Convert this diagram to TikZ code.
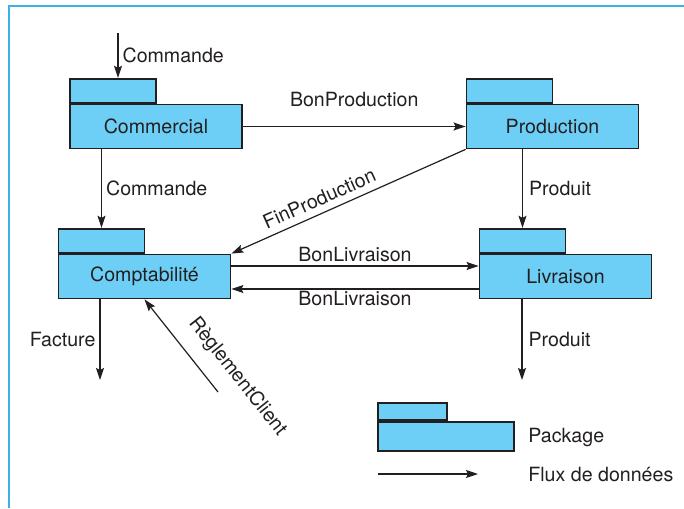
\documentclass[tikz,border=0pt]{standalone}
\usepackage{fontspec}
\setmainfont{TeX Gyre Heros}
\usetikzlibrary{arrows.meta}
\definecolor{pkgfill}{HTML}{6DCFF6}
\definecolor{ink}{HTML}{231F20}
\definecolor{edgeblue}{HTML}{3DB1E3}

\begin{document}
\begin{tikzpicture}[x=0.5pt, y=-0.5pt,
    every node/.style={font=\fontsize{9.8}{12}\selectfont, text=ink},
    pkg/.style={draw=ink, fill=pkgfill, line width=0.9pt, minimum width=86pt, minimum height=22pt, inner sep=0pt},
    pkgtab/.style={draw=ink, fill=pkgfill, line width=0.9pt, minimum width=43pt, minimum height=12pt, inner sep=0pt, anchor=south west},
    flow/.style={draw=ink, line width=0.6pt, -{Stealth[length=6pt, width=4pt, inset=1pt]}}]
    \useasboundingbox (0,0) rectangle (684,508);
    \draw [edgeblue, line width=1pt] (9,508) -- (9,6) -- (684,6);

    \node[pkg] (commercial) at (156,126.5) {Commercial};
    \node[pkgtab] (commercialtab) at (commercial.north west) {};
    \node[pkg] (production) at (552.5,126.5) {Production};
    \node[pkgtab] (productiontab) at (production.north west) {};
    \node[pkg] (comptabilite) at (144.5,276.5) {Comptabilité};
    \node[pkgtab] (comptabilitetab) at (comptabilite.north west) {};
    \node[pkg] (livraison) at (565.5,276.5) {Livraison};
    \node[pkgtab] (livraisontab) at (livraison.north west) {};

    \coordinate (cmdin) at (118,33);
    \draw[flow] (cmdin) -- (cmdin |- commercialtab.north) node[midway, right, inner sep=2pt] {Commande};
    \draw[flow] (commercial) -- (production) node[midway, above=6pt] {BonProduction};
    \draw[flow] (comptabilitetab.north |- commercial.south) -- (comptabilitetab.north) node[midway, right, inner sep=2pt] {Commande};
    \draw[flow] (livraisontab.north |- production.south) -- (livraisontab.north) node[midway, right, inner sep=3pt] {Produit};
    \draw[flow] (production.south west) -- (comptabilite.north east) node[pos=0.6, sloped, above] {FinProduction};
    \draw[flow] ([yshift=5.25pt]comptabilite.east) -- ([yshift=5.25pt]livraison.west) node[midway, above, inner sep=2pt] {BonLivraison};
    \draw[flow] ([yshift=-6.25pt]livraison.west) -- ([yshift=-6.25pt]comptabilite.east) node[midway, below, inner sep=1pt] {BonLivraison};

    \coordinate (factureend) at (100,380);
    \draw[flow] (factureend |- comptabilite.south) -- (factureend) node[midway, left, inner sep=2pt] {Facture};
    \coordinate (produitend) at (522,380);
    \draw[flow] (produitend |- livraison.south) -- (produitend) node[midway, right, inner sep=3pt] {Produit};
    \coordinate (reglementstart) at (218,392);
    \draw[flow] (reglementstart) -- (comptabilite.south) node[pos=0, sloped, above=4pt] {RèglementClient};

    \node[pkg, minimum width=68pt, minimum height=14.5pt] (legendpkg) at (446,436.5) {};
    \node[pkgtab, minimum width=34.5pt, minimum height=8.5pt] (legendtab) at (legendpkg.north west) {};
    \node[anchor=west, inner sep=0pt] (pkglabel) at (528,437) {Package};
    \coordinate (flowstart) at (378,474);
    \coordinate (flowend) at (478,474);
    \draw[flow] (flowstart) -- (flowend);
    \node[anchor=west, inner sep=0pt] (flowlabel) at (528,474) {Flux de données};
\end{tikzpicture}
\end{document}
